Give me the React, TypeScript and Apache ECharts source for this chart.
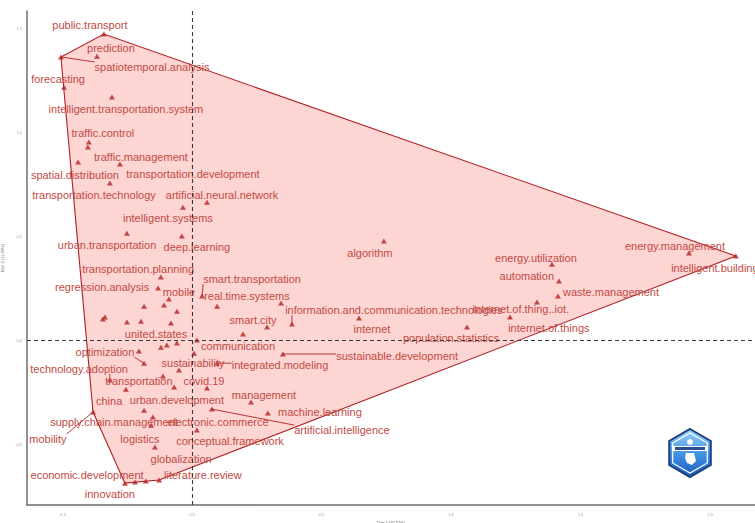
import { useEffect, useRef } from "react";
import * as echarts from "echarts";

// Keyword coordinates on the first two dimensions of the factorial map
const terms = [
  "public.transport", "prediction", "spatiotemporal.analysis", "forecasting",
  "intelligent.transportation.system", "traffic.control", "traffic.management",
  "spatial.distribution", "transportation.development", "transportation.technology",
  "artificial.neural.network", "intelligent.systems", "urban.transportation",
  "deep.learning", "transportation.planning", "regression.analysis", "mobile",
  "smart.transportation", "real.time.systems", "algorithm",
  "information.and.communication.technologies", "internet", "smart.city",
  "united.states", "population.statistics", "internet.of.things",
  "internet.of.thing..iot.", "waste.management", "automation", "energy.utilization",
  "energy.management", "intelligent.building", "communication",
  "sustainable.development", "integrated.modeling", "sustainability", "optimization",
  "technology.adoption", "transportation", "covid.19", "management",
  "machine.learning", "artificial.intelligence", "china", "urban.development",
  "supply.chain.management", "electronic.commerce", "mobility", "logistics",
  "conceptual.framework", "globalization", "economic.development",
  "literature.review", "innovation",
];

const dim1 = [
  -0.340, -0.367, -0.506, -0.494, -0.309, -0.398, -0.402, -0.440, -0.278, -0.317,
  0.058, -0.035, -0.251, -0.039, -0.120, -0.131, -0.089, 0.039, 0.344, 0.741,
  0.386, 0.645, 0.290, -0.081, 1.062, 1.228, 1.332, 1.413, 1.417, 1.390,
  1.919, 2.100, 0.019, 0.351, 0.097, -0.050, -0.185, -0.317, -0.069, 0.058,
  0.228, 0.293, 0.077, -0.255, -0.185, -0.151, 0.019, -0.382, -0.143, -0.158,
  -0.220, -0.178, -0.127, -0.259,
];

const dim2 = [
  1.471, 1.365, 1.361, 1.216, 1.168, 0.952, 0.928, 0.856, 0.846, 0.755,
  0.663, 0.639, 0.514, 0.500, 0.303, 0.250, 0.197, 0.212, 0.178, 0.476,
  0.077, 0.106, 0.063, 0.082, 0.063, 0.111, 0.183, 0.212, 0.284, 0.365,
  0.418, 0.404, 0.000, -0.067, -0.111, -0.144, -0.111, -0.192, -0.226, -0.231,
  -0.298, -0.351, -0.332, -0.236, -0.337, -0.370, -0.433, -0.346, -0.514, -0.409,
  -0.683, -0.678, -0.673, -0.688,
];

// Repelled label centres (same units as the dimensions)
const labelDim1 = [
  -0.394, -0.313, -0.154, -0.517, -0.255, -0.344, -0.197, -0.452, 0.004, -0.378,
  0.116, -0.093, -0.328, 0.019, -0.208, -0.347, -0.050, 0.232, 0.212, 0.687,
  0.780, 0.695, 0.236, -0.139, 1.000, 1.378, 1.270, 1.618, 1.293, 1.328,
  1.865, 2.019, 0.178, 0.792, 0.340, 0.004, -0.336, -0.436, -0.205, 0.046,
  0.278, 0.494, 0.579, -0.320, -0.058, -0.301, 0.100, -0.556, -0.201, 0.147,
  -0.042, -0.405, 0.042, -0.317,
];

const labelDim2 = [
  1.514, 1.404, 1.313, 1.255, 1.111, 0.995, 0.880, 0.793, 0.798, 0.697,
  0.697, 0.587, 0.457, 0.447, 0.341, 0.255, 0.231, 0.293, 0.212, 0.418,
  0.144, 0.053, 0.096, 0.029, 0.010, 0.058, 0.149, 0.231, 0.308, 0.394,
  0.452, 0.346, -0.029, -0.077, -0.120, -0.111, -0.058, -0.139, -0.197, -0.197,
  -0.264, -0.346, -0.433, -0.293, -0.288, -0.394, -0.394, -0.476, -0.476, -0.486,
  -0.572, -0.649, -0.649, -0.740,
];

// Labels pushed far enough from their point to get a leader segment
const leaderTerms = [
  "spatiotemporal.analysis", "smart.transportation",
  "information.and.communication.technologies", "sustainable.development",
  "integrated.modeling", "optimization", "technology.adoption",
  "artificial.intelligence", "mobility",
];

// Keywords whose labels were dropped for overlap
const hiddenDim1 = [
  -0.108, -0.185, -0.058, -0.336, -0.344, -0.251, -0.197, 0.097, 0.197, 0.008,
  -0.205, -0.112, -0.120, -0.097, -0.058,
];
const hiddenDim2 = [
  0.168, 0.163, 0.139, 0.111, 0.101, 0.087, 0.091, 0.163, 0.029, -0.063,
  -0.053, -0.173, -0.034, -0.024, -0.014,
];

const xTicks = [-0.5, 0, 0.5, 1, 1.5, 2];
const yTicks = [-0.5, 0, 0.5, 1, 1.5];
const xTitle = "Dim 1 (20.32%)";
const yTitle = "Dim 2 (11.45%)";

const POINT_COLOR = "#b22222";
const LABEL_COLOR = "#c24a44";
const LABEL_FONT = '11px "Liberation Sans", Arial, sans-serif';

function convexHull(pts: number[][]): number[][] {
  const p = pts.slice().sort((a, b) => a[0] - b[0] || a[1] - b[1]);
  const cross = (o: number[], a: number[], b: number[]) =>
    (a[0] - o[0]) * (b[1] - o[1]) - (a[1] - o[1]) * (b[0] - o[0]);
  const lower: number[][] = [];
  for (const q of p) {
    while (lower.length >= 2 && cross(lower[lower.length - 2], lower[lower.length - 1], q) <= 0) lower.pop();
    lower.push(q);
  }
  const upper: number[][] = [];
  for (let i = p.length - 1; i >= 0; i--) {
    const q = p[i];
    while (upper.length >= 2 && cross(upper[upper.length - 2], upper[upper.length - 1], q) <= 0) upper.pop();
    upper.push(q);
  }
  upper.pop();
  lower.pop();
  return lower.concat(upper);
}

export default function App() {
  const ref = useRef<HTMLDivElement>(null);

  useEffect(() => {
    if (!ref.current) return;
    const chart = echarts.init(ref.current, undefined, { renderer: "svg" });

    const ctx = document.createElement("canvas").getContext("2d")!;
    ctx.font = LABEL_FONT;
    const widths = terms.map((t) => ctx.measureText(t).width);

    const points = terms.map((_, i) => [dim1[i], dim2[i]]);
    const hidden = hiddenDim1.map((x, i) => [x, hiddenDim2[i]]);
    const hull = convexHull(points.concat(hidden));

    const labelData = terms.map((_, i) => [labelDim1[i], labelDim2[i], dim1[i], dim2[i], i]);

    const hexPoints = (r: number) =>
      [0, 1, 2, 3, 4, 5].map((k) => {
        const a = ((-90 + 60 * k) * Math.PI) / 180;
        return [r * Math.cos(a), r * Math.sin(a)];
      });

    chart.setOption({
      animation: false,
      backgroundColor: "#ffffff",
      grid: {
        left: 27,
        right: 0,
        top: 11,
        bottom: 18,
        containLabel: false,
        outerBoundsMode: "none",
      },
      xAxis: {
        type: "value",
        min: -0.637,
        max: 2.174,
        splitLine: { show: false },
        axisLine: { show: true, onZero: false, lineStyle: { color: "#6e6e6e", width: 1.5 } },
        axisTick: { show: false },
        axisLabel: {
          customValues: xTicks,
          fontSize: 4,
          color: "#9a9a9a",
          margin: 7,
          formatter: (v: number) => v.toFixed(1),
        },
        name: xTitle,
        nameLocation: "middle",
        nameGap: 14,
        nameTextStyle: { fontSize: 4, color: "#555" },
      },
      yAxis: {
        type: "value",
        min: -0.793,
        max: 1.582,
        splitLine: { show: false },
        axisLine: { show: true, onZero: false, lineStyle: { color: "#6e6e6e", width: 1.5 } },
        axisTick: { show: false },
        axisLabel: {
          customValues: yTicks,
          fontSize: 4,
          color: "#9a9a9a",
          margin: 5,
          formatter: (v: number) => v.toFixed(1),
        },
        name: yTitle,
        nameLocation: "middle",
        nameGap: 13,
        nameTextStyle: { fontSize: 4, color: "#555" },
      },
      series: [
        {
          type: "custom",
          z: 1,
          silent: true,
          data: [[0, 0]],
          renderItem: (_params: any, api: any) => ({
            type: "polygon",
            shape: { points: hull.map((p) => api.coord(p)) },
            style: { fill: "#fdd5d3", stroke: "#b01e22", lineWidth: 1.1 },
          }),
        },
        {
          type: "scatter",
          z: 2,
          silent: true,
          data: [],
          markLine: {
            silent: true,
            symbol: ["none", "none"],
            label: { show: false },
            lineStyle: { type: [4, 3], color: "#3a3a3a", width: 1.1 },
            data: [{ xAxis: 0 }, { yAxis: 0 }],
          },
        },
        {
          type: "scatter",
          z: 3,
          silent: true,
          symbol: "triangle",
          symbolSize: [6, 5],
          itemStyle: { color: POINT_COLOR },
          data: points.concat(hidden),
        },
        {
          type: "custom",
          z: 4,
          silent: true,
          clip: false,
          data: labelData,
          renderItem: (_params: any, api: any) => {
            const i = api.value(4);
            const c = api.coord([api.value(0), api.value(1)]);
            const p = api.coord([api.value(2), api.value(3)]);
            const w = widths[i];
            const children: any[] = [];
            if (leaderTerms.includes(terms[i])) {
              const ex = Math.min(Math.max(p[0], c[0] - w / 2), c[0] + w / 2);
              const ey = Math.min(Math.max(p[1], c[1] - 5), c[1] + 5);
              children.push({
                type: "line",
                shape: { x1: p[0], y1: p[1], x2: ex, y2: ey },
                style: { stroke: POINT_COLOR, lineWidth: 0.9 },
              });
            }
            children.push({
              type: "text",
              x: c[0],
              y: c[1],
              style: {
                text: terms[i],
                font: LABEL_FONT,
                fill: LABEL_COLOR,
                align: "center",
                verticalAlign: "middle",
              },
            });
            return { type: "group", children };
          },
        },
      ],
      graphic: [
        {
          type: "group",
          x: 690,
          y: 453,
          silent: true,
          children: [
            {
              type: "polygon",
              shape: { points: hexPoints(24) },
              style: {
                fill: new echarts.graphic.LinearGradient(0, 0, 0, 1, [
                  { offset: 0, color: "#9ad4f8" },
                  { offset: 0.55, color: "#3d8fe0" },
                  { offset: 1, color: "#1a5cbf" },
                ]),
                stroke: "#1d3f7c",
                lineWidth: 2,
              },
            },
            {
              type: "polygon",
              shape: { points: hexPoints(20) },
              style: { fill: "none", stroke: "#ffffff", lineWidth: 1.2 },
            },
            { type: "rect", shape: { x: -18, y: -7, width: 36, height: 5 }, style: { fill: "#ffffff" } },
            { type: "rect", shape: { x: -15, y: -6, width: 30, height: 3 }, style: { fill: "#2a4f8f" } },
            { type: "circle", shape: { cx: 0, cy: -11, r: 3 }, style: { fill: "#ffffff" } },
            {
              type: "polygon",
              shape: { points: [[-4, 0], [4, 0], [6, 8], [2, 12], [-3, 10], [-5, 5]] },
              style: { fill: "#ffffff" },
            },
          ],
        },
      ],
    });

    return () => chart.dispose();
  }, []);

  return (
    <div
      ref={ref}
      style={{ position: "fixed", left: 0, top: 0, width: 755, height: 523, background: "#fff" }}
    />
  );
}
